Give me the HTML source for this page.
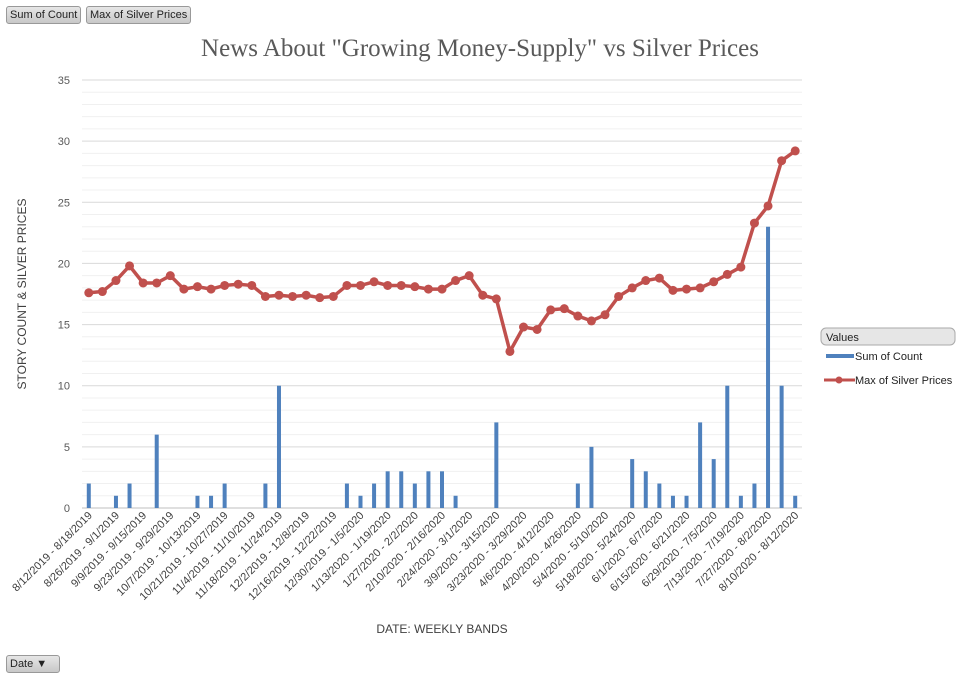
<!DOCTYPE html>
<html><head><meta charset="utf-8"><style>
body{margin:0;width:960px;height:679px;background:#fff;font-family:"Liberation Sans",sans-serif;overflow:hidden;position:relative}
.btn{position:absolute;top:6px;height:16px;font-size:11px;line-height:16px;padding:0 3px;background:linear-gradient(#e6e6e6,#c8c8c8);border:1px solid #999;border-radius:3px;color:#222}
</style></head><body>
<div class="btn" style="left:6px">Sum of Count</div>
<div class="btn" style="left:86px">Max of Silver Prices</div>
<div class="btn" style="top:655px;left:6px;font-size:11px;width:46px">Date &#9660;</div>
<svg id="chart" width="960" height="679" style="position:absolute;left:0;top:0"></svg>
<script>
const categories=["8/12/2019 - 8/18/2019","8/19/2019 - 8/25/2019","8/26/2019 - 9/1/2019","9/2/2019 - 9/8/2019","9/9/2019 - 9/15/2019","9/16/2019 - 9/22/2019","9/23/2019 - 9/29/2019","9/30/2019 - 10/6/2019","10/7/2019 - 10/13/2019","10/14/2019 - 10/20/2019","10/21/2019 - 10/27/2019","10/28/2019 - 11/3/2019","11/4/2019 - 11/10/2019","11/11/2019 - 11/17/2019","11/18/2019 - 11/24/2019","11/25/2019 - 12/1/2019","12/2/2019 - 12/8/2019","12/9/2019 - 12/15/2019","12/16/2019 - 12/22/2019","12/23/2019 - 12/29/2019","12/30/2019 - 1/5/2020","1/6/2020 - 1/12/2020","1/13/2020 - 1/19/2020","1/20/2020 - 1/26/2020","1/27/2020 - 2/2/2020","2/3/2020 - 2/9/2020","2/10/2020 - 2/16/2020","2/17/2020 - 2/23/2020","2/24/2020 - 3/1/2020","3/2/2020 - 3/8/2020","3/9/2020 - 3/15/2020","3/16/2020 - 3/22/2020","3/23/2020 - 3/29/2020","3/30/2020 - 4/5/2020","4/6/2020 - 4/12/2020","4/13/2020 - 4/19/2020","4/20/2020 - 4/26/2020","4/27/2020 - 5/3/2020","5/4/2020 - 5/10/2020","5/11/2020 - 5/17/2020","5/18/2020 - 5/24/2020","5/25/2020 - 5/31/2020","6/1/2020 - 6/7/2020","6/8/2020 - 6/14/2020","6/15/2020 - 6/21/2020","6/22/2020 - 6/28/2020","6/29/2020 - 7/5/2020","7/6/2020 - 7/12/2020","7/13/2020 - 7/19/2020","7/20/2020 - 7/26/2020","7/27/2020 - 8/2/2020","8/3/2020 - 8/9/2020","8/10/2020 - 8/12/2020"];
const countValues=[2,0,1,2,0,6,0,0,1,1,2,0,0,2,10,0,0,0,0,2,1,2,3,3,2,3,3,1,0,0,7,0,0,0,0,0,2,5,0,0,4,3,2,1,1,7,4,10,1,2,23,10,1];
const silverValues=[17.6,17.7,18.6,19.8,18.4,18.4,19.0,17.9,18.1,17.9,18.2,18.3,18.2,17.3,17.4,17.3,17.4,17.2,17.3,18.2,18.2,18.5,18.2,18.2,18.1,17.9,17.9,18.6,19.0,17.4,17.1,12.8,14.8,14.6,16.2,16.3,15.7,15.3,15.8,17.3,18.0,18.6,18.8,17.8,17.9,18.0,18.5,19.1,19.7,23.3,24.7,28.4,29.2];
const yTicks=[0,5,10,15,20,25,30,35];
const svg=document.getElementById('chart');const NS='http://www.w3.org/2000/svg';
const L=82,R=802,T=80,B=508,yMax=35;
const bw=(R-L)/categories.length;
const xScale=i=>L+bw*(i+0.5);
const yScale=v=>B-(v/yMax)*(B-T);
function mk(tag,attrs,parent){const e=document.createElementNS(NS,tag);for(const k in attrs)e.setAttribute(k,attrs[k]);(parent||svg).appendChild(e);return e;}
for(let v=1;v<yMax;v++){if(v%5===0)continue;const l=mk('line',{x1:L,x2:R,y1:yScale(v),y2:yScale(v),stroke:'#f0f0f0','stroke-width':1});

}
yTicks.forEach(v=>{const l=mk('line',{x1:L,x2:R,y1:yScale(v),y2:yScale(v),stroke:v===0?'#bfbfbf':'#d9d9d9','stroke-width':1});


const t=mk('text',{x:70,y:yScale(v)+4,'text-anchor':'end','font-size':11,fill:'#595959'});t.textContent=v;

});
countValues.forEach((v,i)=>{if(!v)return;const r=mk('rect',{x:xScale(i)-2,y:yScale(v),width:4,height:B-yScale(v),fill:'#4f81bd'});

});
const pl=mk('polyline',{points:silverValues.map((v,i)=>xScale(i)+','+yScale(v)).join(' '),fill:'none',stroke:'#c0504d','stroke-width':3.5,'stroke-linejoin':'round'});


silverValues.forEach((v,i)=>{const c=mk('circle',{cx:xScale(i),cy:yScale(v),r:4.5,fill:'#c0504d'});

});
categories.forEach((c,i)=>{if(i%2)return;const x=xScale(i),y=B+8;const t=mk('text',{x:x+4,y:y,'text-anchor':'end','font-size':11,fill:'#404040',transform:`rotate(-45 ${x+4} ${y})`});t.textContent=c;

});
let t=mk('text',{x:480,y:56,'text-anchor':'middle','font-size':25,fill:'#595959','font-family':'"Liberation Serif",serif'});t.textContent='News About "Growing Money-Supply" vs Silver Prices';


t=mk('text',{x:442,y:633,'text-anchor':'middle','font-size':12,fill:'#404040'});t.textContent='DATE: WEEKLY BANDS';


t=mk('text',{x:26,y:294,'text-anchor':'middle','font-size':12,fill:'#404040',transform:'rotate(-90 26 294)'});t.textContent='STORY COUNT  &  SILVER PRICES';


const g=mk('g',{});

let r=mk('rect',{x:821,y:328,width:134,height:17,rx:5,fill:'#e6e6e6',stroke:'#aaa'},g);

t=mk('text',{x:826,y:341,'font-size':11,fill:'#222'},g);t.textContent='Values';
r=mk('rect',{x:826,y:354,width:28,height:4,fill:'#4f81bd'},g);

t=mk('text',{x:855,y:360,'font-size':11,fill:'#222'},g);t.textContent='Sum of Count';


mk('line',{x1:824,x2:855,y1:380,y2:380,stroke:'#c0504d','stroke-width':3},g);
mk('circle',{cx:839,cy:380,r:3.5,fill:'#c0504d'},g);
t=mk('text',{x:855,y:384,'font-size':11,fill:'#222'},g);t.textContent='Max of Silver Prices';


</script>
</body></html>
